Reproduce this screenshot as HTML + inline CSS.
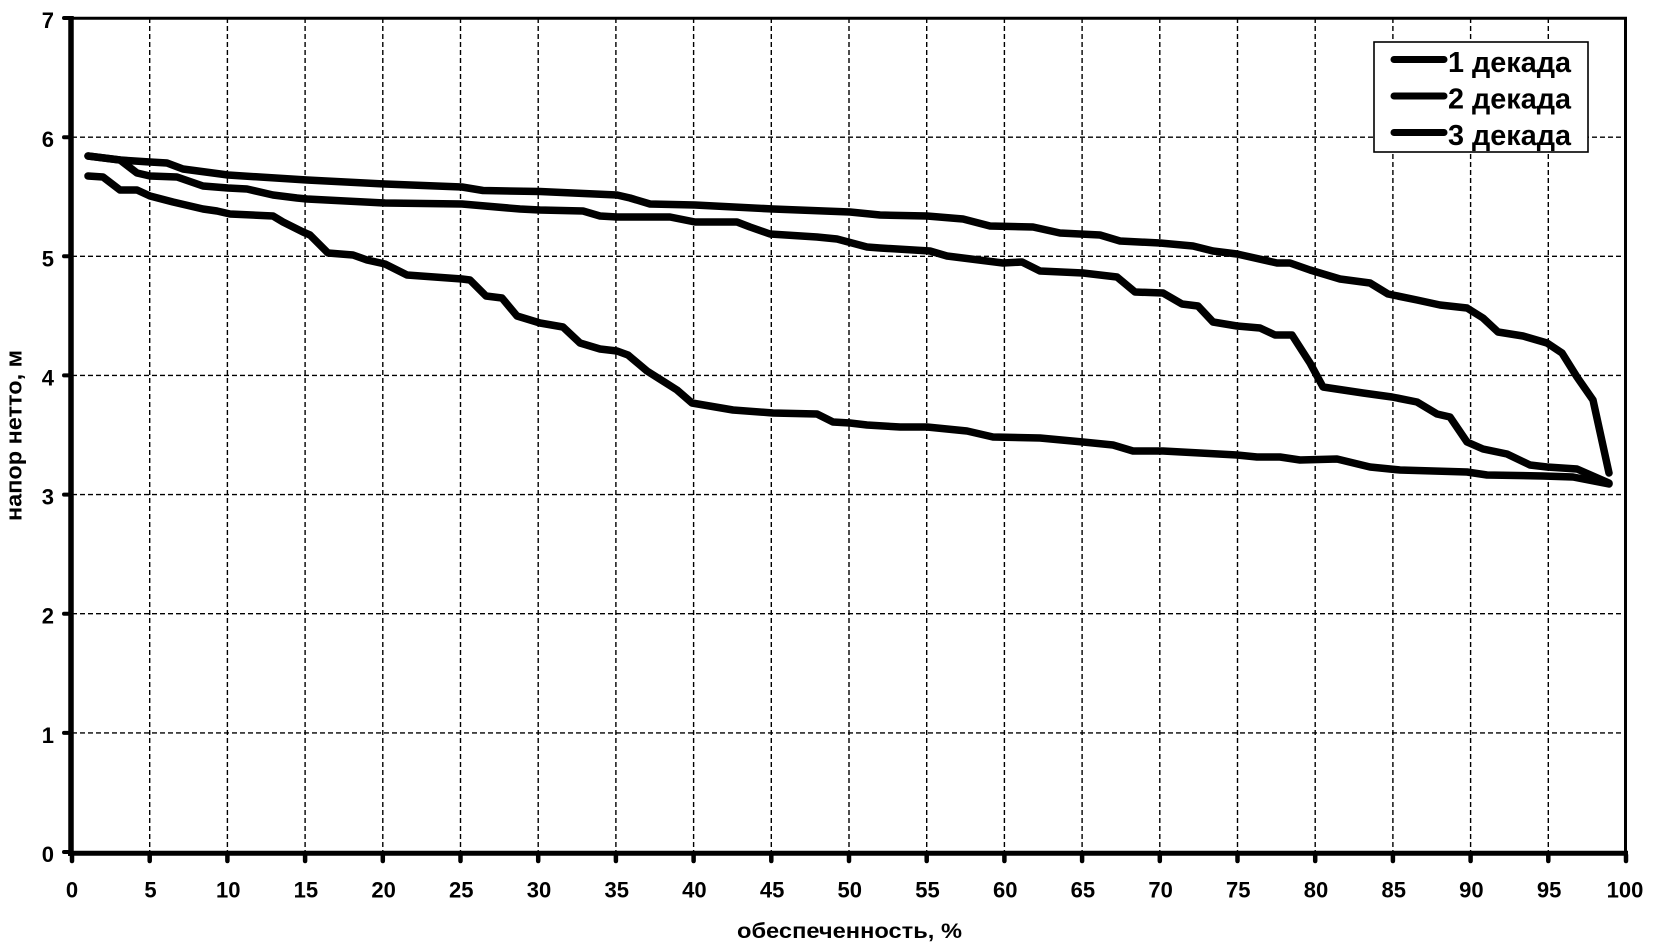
<!DOCTYPE html>
<html>
<head>
<meta charset="utf-8">
<style>
html,body{margin:0;padding:0;background:#fff;}
svg{display:block;}
text{font-family:"Liberation Sans","DejaVu Sans",sans-serif;font-weight:bold;fill:#000;}
</style>
</head>
<body>
<svg width="1654" height="948" viewBox="0 0 1654 948" xmlns="http://www.w3.org/2000/svg">
<rect x="0" y="0" width="1654" height="948" fill="#fff"/>
<!-- grid -->
<g stroke="#000" stroke-width="1.4" stroke-dasharray="5 3" fill="none">
<line x1="149.7" y1="18" x2="149.7" y2="852"/>
<line x1="227.4" y1="18" x2="227.4" y2="852"/>
<line x1="305.1" y1="18" x2="305.1" y2="852"/>
<line x1="382.8" y1="18" x2="382.8" y2="852"/>
<line x1="460.5" y1="18" x2="460.5" y2="852"/>
<line x1="538.2" y1="18" x2="538.2" y2="852"/>
<line x1="615.9" y1="18" x2="615.9" y2="852"/>
<line x1="693.6" y1="18" x2="693.6" y2="852"/>
<line x1="771.3" y1="18" x2="771.3" y2="852"/>
<line x1="849" y1="18" x2="849" y2="852"/>
<line x1="926.7" y1="18" x2="926.7" y2="852"/>
<line x1="1004.4" y1="18" x2="1004.4" y2="852"/>
<line x1="1082.1" y1="18" x2="1082.1" y2="852"/>
<line x1="1159.8" y1="18" x2="1159.8" y2="852"/>
<line x1="1237.5" y1="18" x2="1237.5" y2="852"/>
<line x1="1315.2" y1="18" x2="1315.2" y2="852"/>
<line x1="1392.9" y1="18" x2="1392.9" y2="852"/>
<line x1="1470.6" y1="18" x2="1470.6" y2="852"/>
<line x1="1548.3" y1="18" x2="1548.3" y2="852"/>
<line x1="72" y1="732.9" x2="1626" y2="732.9"/>
<line x1="72" y1="613.7" x2="1626" y2="613.7"/>
<line x1="72" y1="494.6" x2="1626" y2="494.6"/>
<line x1="72" y1="375.4" x2="1626" y2="375.4"/>
<line x1="72" y1="256.3" x2="1626" y2="256.3"/>
<line x1="72" y1="137.2" x2="1626" y2="137.2"/>
</g>

<!-- legend -->
<rect x="1374" y="42" width="214" height="110" fill="#fff" stroke="#000" stroke-width="1.6"/>
<g stroke="#000" stroke-width="7" stroke-linecap="round">
<line x1="1394" y1="59.5" x2="1444" y2="59.5"/>
<line x1="1394" y1="96" x2="1444" y2="96"/>
<line x1="1394" y1="132.5" x2="1444" y2="132.5"/>
</g>
<text x="1448" y="72" font-size="29" textLength="123" lengthAdjust="spacingAndGlyphs">1 декада</text>
<text x="1448" y="108.5" font-size="29" textLength="123" lengthAdjust="spacingAndGlyphs">2 декада</text>
<text x="1448" y="145" font-size="29" textLength="123" lengthAdjust="spacingAndGlyphs">3 декада</text>

<!-- curves -->
<g fill="none" stroke="#000" stroke-width="7.5" stroke-linejoin="round" stroke-linecap="round">
<polyline points="88,156 120,160 150,162 167,163 183,169 228,175 307,180 385,184 462,187 483,190.5 540,191.5 617,195 630,198 650,204 695,205 773,209 850,212 880,215 927,216 963,219 990,226 1033,227 1060,233 1100,235 1120,241 1160,243 1193,246 1213,251 1237,254 1277,263 1290,263 1310,270 1340,279 1370,283 1388,294 1417,300 1440,305 1467,308 1483,318 1498,332 1523,336 1547,343 1562,353 1577,377 1593,400 1609,473"/>
<polyline points="88,156 120,160 137,173 150,176 177,177 203,186 228,188 247,189 273,195 297,198 307,199 385,203 462,204 520,209 540,210 583,211 600,216 617,217 670,217 695,222 737,222 750,227 770,234 817,237 837,239 867,247 880,248 930,251 947,256 1003,263 1022,262 1040,271 1083,273 1117,277 1135,292 1163,293 1182,304 1198,306 1213,322 1237,326 1260,328 1275,335 1292,335 1310,363 1323,387 1363,393 1392,397 1417,402 1437,414 1450,417 1467,442 1483,449 1507,454 1530,465 1547,467 1577,469 1593,476 1609,483"/>
<polyline points="88,176 103,177 120,190 137,190 150,196 173,202 203,209 217,211 230,214 273,216 283,222 303,232 310,235 328,253 353,255 367,260 385,264 407,275 462,279 470,280 486,296 502,298 517,316 540,323 563,327 580,343 600,349 617,351 628,355 647,371 677,390 692,403 733,410 773,413 817,414 833,422 850,423 867,425 900,427 927,427 967,431 993,437 1040,438 1083,442 1113,445 1133,451 1163,451 1200,453 1237,455 1257,457 1280,457 1300,460 1337,459 1370,467 1400,470 1467,472 1487,475 1543,476 1573,477 1609,484"/>
</g>

<!-- axes / frame -->
<line x1="70" y1="18.3" x2="1627" y2="18.3" stroke="#000" stroke-width="3"/>
<line x1="1625.5" y1="17" x2="1625.5" y2="855" stroke="#000" stroke-width="3"/>
<line x1="71" y1="16" x2="71" y2="856" stroke="#000" stroke-width="5.5"/>
<line x1="68" y1="853.3" x2="1628" y2="853.3" stroke="#000" stroke-width="5"/>

<!-- y ticks -->
<g stroke="#000" stroke-width="4" stroke-linecap="round">
<line x1="64" y1="852" x2="70" y2="852"/>
<line x1="64" y1="732.9" x2="70" y2="732.9"/>
<line x1="64" y1="613.7" x2="70" y2="613.7"/>
<line x1="64" y1="494.6" x2="70" y2="494.6"/>
<line x1="64" y1="375.4" x2="70" y2="375.4"/>
<line x1="64" y1="256.3" x2="70" y2="256.3"/>
<line x1="64" y1="137.2" x2="70" y2="137.2"/>
<line x1="64" y1="18" x2="70" y2="18"/>
</g>
<!-- x ticks -->
<g stroke="#000" stroke-width="4.5" stroke-linecap="round">
<line x1="72" y1="855" x2="72" y2="861"/>
<line x1="149.7" y1="855" x2="149.7" y2="861"/>
<line x1="227.4" y1="855" x2="227.4" y2="861"/>
<line x1="305.1" y1="855" x2="305.1" y2="861"/>
<line x1="382.8" y1="855" x2="382.8" y2="861"/>
<line x1="460.5" y1="855" x2="460.5" y2="861"/>
<line x1="538.2" y1="855" x2="538.2" y2="861"/>
<line x1="615.9" y1="855" x2="615.9" y2="861"/>
<line x1="693.6" y1="855" x2="693.6" y2="861"/>
<line x1="771.3" y1="855" x2="771.3" y2="861"/>
<line x1="849" y1="855" x2="849" y2="861"/>
<line x1="926.7" y1="855" x2="926.7" y2="861"/>
<line x1="1004.4" y1="855" x2="1004.4" y2="861"/>
<line x1="1082.1" y1="855" x2="1082.1" y2="861"/>
<line x1="1159.8" y1="855" x2="1159.8" y2="861"/>
<line x1="1237.5" y1="855" x2="1237.5" y2="861"/>
<line x1="1315.2" y1="855" x2="1315.2" y2="861"/>
<line x1="1392.9" y1="855" x2="1392.9" y2="861"/>
<line x1="1470.6" y1="855" x2="1470.6" y2="861"/>
<line x1="1548.3" y1="855" x2="1548.3" y2="861"/>
<line x1="1626" y1="855" x2="1626" y2="861"/>
</g>

<!-- y tick labels -->
<g font-size="22" text-anchor="end">
<text x="54" y="862">0</text>
<text x="54" y="742.9">1</text>
<text x="54" y="623.7">2</text>
<text x="54" y="504.6">3</text>
<text x="54" y="385.4">4</text>
<text x="54" y="266.3">5</text>
<text x="54" y="147.2">6</text>
<text x="54" y="28">7</text>
</g>
<!-- x tick labels -->
<g font-size="22" text-anchor="middle">
<text x="72" y="897.5">0</text>
<text x="150.5" y="897.5">5</text>
<text x="228.2" y="897.5">10</text>
<text x="305.9" y="897.5">15</text>
<text x="383.6" y="897.5">20</text>
<text x="461.3" y="897.5">25</text>
<text x="539" y="897.5">30</text>
<text x="616.7" y="897.5">35</text>
<text x="694.4" y="897.5">40</text>
<text x="772.1" y="897.5">45</text>
<text x="849.8" y="897.5">50</text>
<text x="927.5" y="897.5">55</text>
<text x="1005.2" y="897.5">60</text>
<text x="1082.9" y="897.5">65</text>
<text x="1160.6" y="897.5">70</text>
<text x="1238.3" y="897.5">75</text>
<text x="1316" y="897.5">80</text>
<text x="1393.7" y="897.5">85</text>
<text x="1471.4" y="897.5">90</text>
<text x="1549.1" y="897.5">95</text>
<text x="1625" y="897.5">100</text>
</g>

<!-- axis titles -->
<text x="849.5" y="938" font-size="21" text-anchor="middle" textLength="225" lengthAdjust="spacingAndGlyphs">обеспеченность, %</text>
<text transform="translate(21.5,435.5) rotate(-90)" font-size="22" text-anchor="middle" textLength="171" lengthAdjust="spacingAndGlyphs">напор нетто, м</text>
</svg>
</body>
</html>
